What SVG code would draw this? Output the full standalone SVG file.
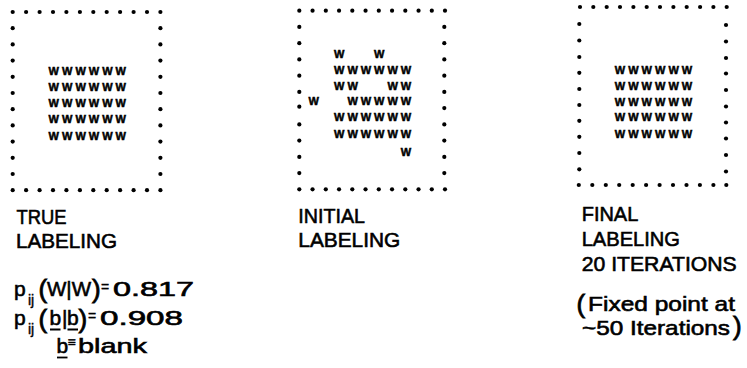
<svg xmlns="http://www.w3.org/2000/svg" width="747" height="368" viewBox="0 0 747 368">
<style>
.d{fill:#000}
.w{font-family:"Liberation Sans",Arial,sans-serif;font-weight:bold;font-size:11px;text-anchor:middle;fill:#000;stroke:#000;stroke-width:0.5}
.t{font-family:"Liberation Sans",Arial,sans-serif;font-size:21px;fill:#000;stroke:#000;stroke-width:0.6}
.s{font-family:"Liberation Sans",Arial,sans-serif;font-size:14px;fill:#000;stroke:#000;stroke-width:0.4}
.p{font-family:"Liberation Sans",Arial,sans-serif;font-size:26px;fill:#000;stroke:#000;stroke-width:0.8}
.e{font-family:"Liberation Sans",Arial,sans-serif;font-size:14px;fill:#000;stroke:#000;stroke-width:0.4}
.u{stroke:#000;stroke-width:1.8;fill:none}
</style>
<rect width="747" height="368" fill="#fff"/>

<g id="true-labeling">
<g class="d">
<circle cx="12.7" cy="12" r="2.1"/><circle cx="26.1" cy="12" r="2.1"/><circle cx="39.6" cy="12" r="2.1"/><circle cx="53" cy="12" r="2.1"/><circle cx="66.4" cy="12" r="2.1"/><circle cx="79.9" cy="12" r="2.1"/><circle cx="93.3" cy="12" r="2.1"/><circle cx="106.7" cy="12" r="2.1"/><circle cx="120.1" cy="12" r="2.1"/><circle cx="133.6" cy="12" r="2.1"/><circle cx="147" cy="12" r="2.1"/><circle cx="160.4" cy="12" r="2.1"/>
<circle cx="12.7" cy="190.2" r="2.1"/><circle cx="26.1" cy="190.2" r="2.1"/><circle cx="39.6" cy="190.2" r="2.1"/><circle cx="53" cy="190.2" r="2.1"/><circle cx="66.4" cy="190.2" r="2.1"/><circle cx="79.9" cy="190.2" r="2.1"/><circle cx="93.3" cy="190.2" r="2.1"/><circle cx="106.7" cy="190.2" r="2.1"/><circle cx="120.1" cy="190.2" r="2.1"/><circle cx="133.6" cy="190.2" r="2.1"/><circle cx="147" cy="190.2" r="2.1"/><circle cx="160.4" cy="190.2" r="2.1"/>
<circle cx="12.7" cy="28.2" r="2.1"/><circle cx="12.7" cy="44.4" r="2.1"/><circle cx="12.7" cy="60.6" r="2.1"/><circle cx="12.7" cy="76.8" r="2.1"/><circle cx="12.7" cy="93" r="2.1"/><circle cx="12.7" cy="109.2" r="2.1"/><circle cx="12.7" cy="125.4" r="2.1"/><circle cx="12.7" cy="141.6" r="2.1"/><circle cx="12.7" cy="157.8" r="2.1"/><circle cx="12.7" cy="174" r="2.1"/>
<circle cx="160.4" cy="28.2" r="2.1"/><circle cx="160.4" cy="44.4" r="2.1"/><circle cx="160.4" cy="60.6" r="2.1"/><circle cx="160.4" cy="76.8" r="2.1"/><circle cx="160.4" cy="93" r="2.1"/><circle cx="160.4" cy="109.2" r="2.1"/><circle cx="160.4" cy="125.4" r="2.1"/><circle cx="160.4" cy="141.6" r="2.1"/><circle cx="160.4" cy="157.8" r="2.1"/><circle cx="160.4" cy="174" r="2.1"/>
</g>
<text class="w" x="53.8 67.2 80.6 94 107.4 120.8" y="75.3">WWWWWW</text>
<text class="w" x="53.8 67.2 80.6 94 107.4 120.8" y="91.3">WWWWWW</text>
<text class="w" x="53.8 67.2 80.6 94 107.4 120.8" y="107.3">WWWWWW</text>
<text class="w" x="53.8 67.2 80.6 94 107.4 120.8" y="123.3">WWWWWW</text>
<text class="w" x="53.8 67.2 80.6 94 107.4 120.8" y="139.6">WWWWWW</text>
<text class="t" x="16.5" y="223.5" textLength="50" lengthAdjust="spacingAndGlyphs">TRUE</text>
<text class="t" x="16" y="248.3" textLength="101" lengthAdjust="spacingAndGlyphs">LABELING</text>
</g>

<g id="formula">
<text class="t" x="14" y="296">p</text>
<text class="s" x="28" y="305">ij</text>
<text class="p" x="38.5" y="298">(</text>
<text class="t" x="47" y="295.5" textLength="44" lengthAdjust="spacingAndGlyphs">W|W</text>
<text class="p" x="92" y="298">)</text>
<text class="e" x="101" y="292">=</text>
<text class="t" x="113" y="295.5" textLength="81" lengthAdjust="spacingAndGlyphs">0.817</text>

<text class="t" x="14" y="325">p</text>
<text class="s" x="28" y="334">ij</text>
<text class="p" x="38.5" y="328">(</text>
<text class="t" x="49.5" y="324.5">b</text>
<text class="t" x="62" y="324.5" font-size="19">|</text>
<text class="t" x="67" y="324.5">b</text>
<text class="p" x="78.5" y="328">)</text>
<text class="e" x="88" y="321">=</text>
<text class="t" x="100" y="324.5" textLength="83" lengthAdjust="spacingAndGlyphs">0.908</text>
<path class="u" d="M50 329.5H60.5M67.5 329.5H78"/>

<text class="t" x="56.5" y="353">b</text>
<text class="e" x="67.5" y="347" font-size="12">≡</text>
<text class="t" x="78" y="353" textLength="69" lengthAdjust="spacingAndGlyphs">blank</text>
<path class="u" d="M57 357.5H67.5"/>
</g>

<g id="initial-labeling">
<g class="d">
<circle cx="299.3" cy="10.7" r="2.1"/><circle cx="312.55" cy="10.7" r="2.1"/><circle cx="325.8" cy="10.7" r="2.1"/><circle cx="339.05" cy="10.7" r="2.1"/><circle cx="352.3" cy="10.7" r="2.1"/><circle cx="365.55" cy="10.7" r="2.1"/><circle cx="378.8" cy="10.7" r="2.1"/><circle cx="392.05" cy="10.7" r="2.1"/><circle cx="405.3" cy="10.7" r="2.1"/><circle cx="418.55" cy="10.7" r="2.1"/><circle cx="431.8" cy="10.7" r="2.1"/><circle cx="445" cy="10.7" r="2.1"/>
<circle cx="299.3" cy="189.3" r="2.1"/><circle cx="312.55" cy="189.3" r="2.1"/><circle cx="325.8" cy="189.3" r="2.1"/><circle cx="339.05" cy="189.3" r="2.1"/><circle cx="352.3" cy="189.3" r="2.1"/><circle cx="365.55" cy="189.3" r="2.1"/><circle cx="378.8" cy="189.3" r="2.1"/><circle cx="392.05" cy="189.3" r="2.1"/><circle cx="405.3" cy="189.3" r="2.1"/><circle cx="418.55" cy="189.3" r="2.1"/><circle cx="431.8" cy="189.3" r="2.1"/><circle cx="445" cy="189.3" r="2.1"/>
<circle cx="299.3" cy="26.9" r="2.1"/><circle cx="299.3" cy="43.2" r="2.1"/><circle cx="299.3" cy="59.4" r="2.1"/><circle cx="299.3" cy="75.7" r="2.1"/><circle cx="299.3" cy="91.9" r="2.1"/><circle cx="299.3" cy="106.7" r="2.1"/><circle cx="299.3" cy="124.4" r="2.1"/><circle cx="299.3" cy="140.6" r="2.1"/><circle cx="299.3" cy="156.9" r="2.1"/><circle cx="299.3" cy="173.1" r="2.1"/>
<circle cx="444.3" cy="26.9" r="2.1"/><circle cx="444.3" cy="43.2" r="2.1"/><circle cx="444.3" cy="59.4" r="2.1"/><circle cx="444.3" cy="75.7" r="2.1"/><circle cx="444.3" cy="91.9" r="2.1"/><circle cx="444.3" cy="108.1" r="2.1"/><circle cx="444.3" cy="124.4" r="2.1"/><circle cx="444.3" cy="140.6" r="2.1"/><circle cx="444.3" cy="156.9" r="2.1"/><circle cx="444.3" cy="173.1" r="2.1"/>
</g>
<text class="w" x="339.3 379.3" y="57.6">WW</text>
<text class="w" x="339.3 352.7 366 379.3 392.7 406" y="73.9">WWWWWW</text>
<text class="w" x="339.3 352.7 392.7 406" y="89.7">WWWW</text>
<text class="w" x="313.8 352.7 366 379.3 392.7 406" y="104.6">WWWWWW</text>
<text class="w" x="339.3 352.7 366 379.3 392.7 406" y="121.3">WWWWWW</text>
<text class="w" x="339.3 352.7 366 379.3 392.7 406" y="138.1">WWWWWW</text>
<text class="w" x="406" y="155.6">W</text>
<text class="t" x="298.3" y="223.3" textLength="66.7" lengthAdjust="spacingAndGlyphs">INITIAL</text>
<text class="t" x="298.3" y="247" textLength="102" lengthAdjust="spacingAndGlyphs">LABELING</text>
</g>

<g id="final-labeling">
<g class="d">
<circle cx="580" cy="7" r="2.1"/><circle cx="593.3" cy="7" r="2.1"/><circle cx="606.7" cy="7" r="2.1"/><circle cx="620" cy="7" r="2.1"/><circle cx="633.4" cy="7" r="2.1"/><circle cx="646.7" cy="7" r="2.1"/><circle cx="660" cy="7" r="2.1"/><circle cx="673.4" cy="7" r="2.1"/><circle cx="686.7" cy="7" r="2.1"/><circle cx="700.1" cy="7" r="2.1"/><circle cx="713.4" cy="7" r="2.1"/><circle cx="726.7" cy="7" r="2.1"/>
<circle cx="578.8" cy="185" r="2.1"/><circle cx="592.3" cy="185" r="2.1"/><circle cx="605.8" cy="185" r="2.1"/><circle cx="619.2" cy="185" r="2.1"/><circle cx="632.7" cy="185" r="2.1"/><circle cx="646.1" cy="185" r="2.1"/><circle cx="659.6" cy="185" r="2.1"/><circle cx="673" cy="185" r="2.1"/><circle cx="686.5" cy="185" r="2.1"/><circle cx="699.9" cy="185" r="2.1"/><circle cx="713.4" cy="185" r="2.1"/><circle cx="726.3" cy="185" r="2.1"/>
<circle cx="579.3" cy="24" r="2.1"/><circle cx="579.3" cy="40.5" r="2.1"/><circle cx="579.3" cy="57" r="2.1"/><circle cx="579.3" cy="72.8" r="2.1"/><circle cx="579.3" cy="89" r="2.1"/><circle cx="579.3" cy="105" r="2.1"/><circle cx="579.3" cy="120.8" r="2.1"/><circle cx="579.3" cy="136.8" r="2.1"/><circle cx="579.3" cy="153" r="2.1"/><circle cx="579.3" cy="169.3" r="2.1"/>
<circle cx="726" cy="25" r="2.1"/><circle cx="726" cy="41.5" r="2.1"/><circle cx="726" cy="58" r="2.1"/><circle cx="726" cy="73.5" r="2.1"/><circle cx="726" cy="90" r="2.1"/><circle cx="726" cy="106.5" r="2.1"/><circle cx="726" cy="122.5" r="2.1"/><circle cx="726" cy="138.5" r="2.1"/><circle cx="726" cy="155" r="2.1"/><circle cx="726" cy="171.5" r="2.1"/>
</g>
<text class="w" x="620 633.4 646.8 660.2 673.6 687" y="73.9">WWWWWW</text>
<text class="w" x="620 633.4 646.8 660.2 673.6 687" y="89.9">WWWWWW</text>
<text class="w" x="620 633.4 646.8 660.2 673.6 687" y="105.6">WWWWWW</text>
<text class="w" x="620 633.4 646.8 660.2 673.6 687" y="121.3">WWWWWW</text>
<text class="w" x="620 633.4 646.8 660.2 673.6 687" y="137.9">WWWWWW</text>
<text class="t" x="581.7" y="221" textLength="56.6" lengthAdjust="spacingAndGlyphs">FINAL</text>
<text class="t" x="581.7" y="246" textLength="98.3" lengthAdjust="spacingAndGlyphs">LABELING</text>
<text class="t" x="581.7" y="271" textLength="155" lengthAdjust="spacingAndGlyphs">20 ITERATIONS</text>
<text class="p" x="576.5" y="313">(</text>
<text class="t" x="588" y="311" textLength="147" lengthAdjust="spacingAndGlyphs">Fixed point at</text>
<text class="t" x="582" y="335" textLength="148" lengthAdjust="spacingAndGlyphs">~50 Iterations</text>
<text class="p" x="733" y="335">)</text>
</g>
</svg>
